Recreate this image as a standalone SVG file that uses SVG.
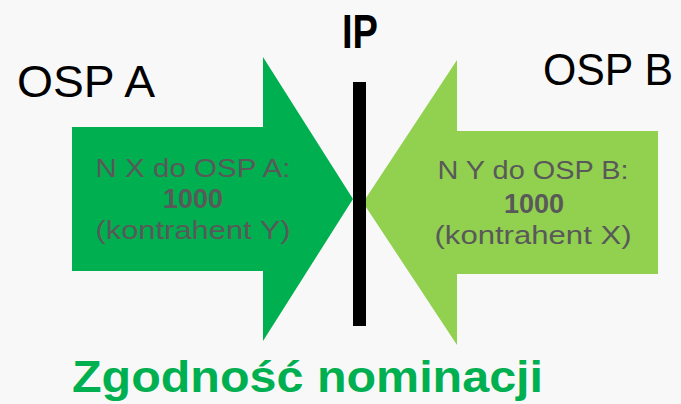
<svg xmlns="http://www.w3.org/2000/svg" width="681" height="404" viewBox="0 0 681 404">
<style>
.lbl{font-family:"Liberation Sans",Arial,sans-serif;fill:#595959;font-size:26px;text-anchor:middle}
.num{font-family:"Liberation Sans",Arial,sans-serif;fill:#595959;font-size:27px;font-weight:bold;text-anchor:middle}
.osp{font-family:"Liberation Sans",Arial,sans-serif;fill:#000;font-size:44px}
</style>
<rect width="681" height="404" fill="#f8f8f8"/>
<g id="arrowA">
<polygon points="72,127 263,127 263,57 353,199 263,341 263,271 72,271" fill="#00b050"/>
<text class="lbl" x="193" y="177" textLength="195" lengthAdjust="spacingAndGlyphs">N X do OSP A:</text>
<text class="num" x="193" y="208">1000</text>
<text class="lbl" x="193" y="239" textLength="195" lengthAdjust="spacingAndGlyphs">(kontrahent Y)</text>
</g>
<g id="arrowB">
<polygon points="658,131 457,131 457,60 363,202.5 457,345 457,274 658,274" fill="#92d050"/>
<text class="lbl" x="533" y="179" textLength="191" lengthAdjust="spacingAndGlyphs">N Y do OSP B:</text>
<text class="num" x="534" y="213">1000</text>
<text class="lbl" x="533" y="244" textLength="197" lengthAdjust="spacingAndGlyphs">(kontrahent X)</text>
</g>
<g id="ip">
<rect x="353" y="82" width="13" height="244" fill="#000"/>
<text x="342" y="48" font-family="'Liberation Sans',Arial,sans-serif" font-weight="bold" font-size="48" textLength="36" lengthAdjust="spacingAndGlyphs" fill="#000">IP</text>
</g>
<g id="ospA"><text class="osp" x="17" y="97" textLength="138" lengthAdjust="spacingAndGlyphs">OSP A</text></g>
<g id="ospB"><text class="osp" x="543" y="85" textLength="130" lengthAdjust="spacingAndGlyphs">OSP B</text></g>
<g id="title"><text x="72" y="392" font-family="'Liberation Sans',Arial,sans-serif" font-weight="bold" font-size="45" fill="#00b050" textLength="471" lengthAdjust="spacingAndGlyphs">Zgodność nominacji</text></g>
</svg>
